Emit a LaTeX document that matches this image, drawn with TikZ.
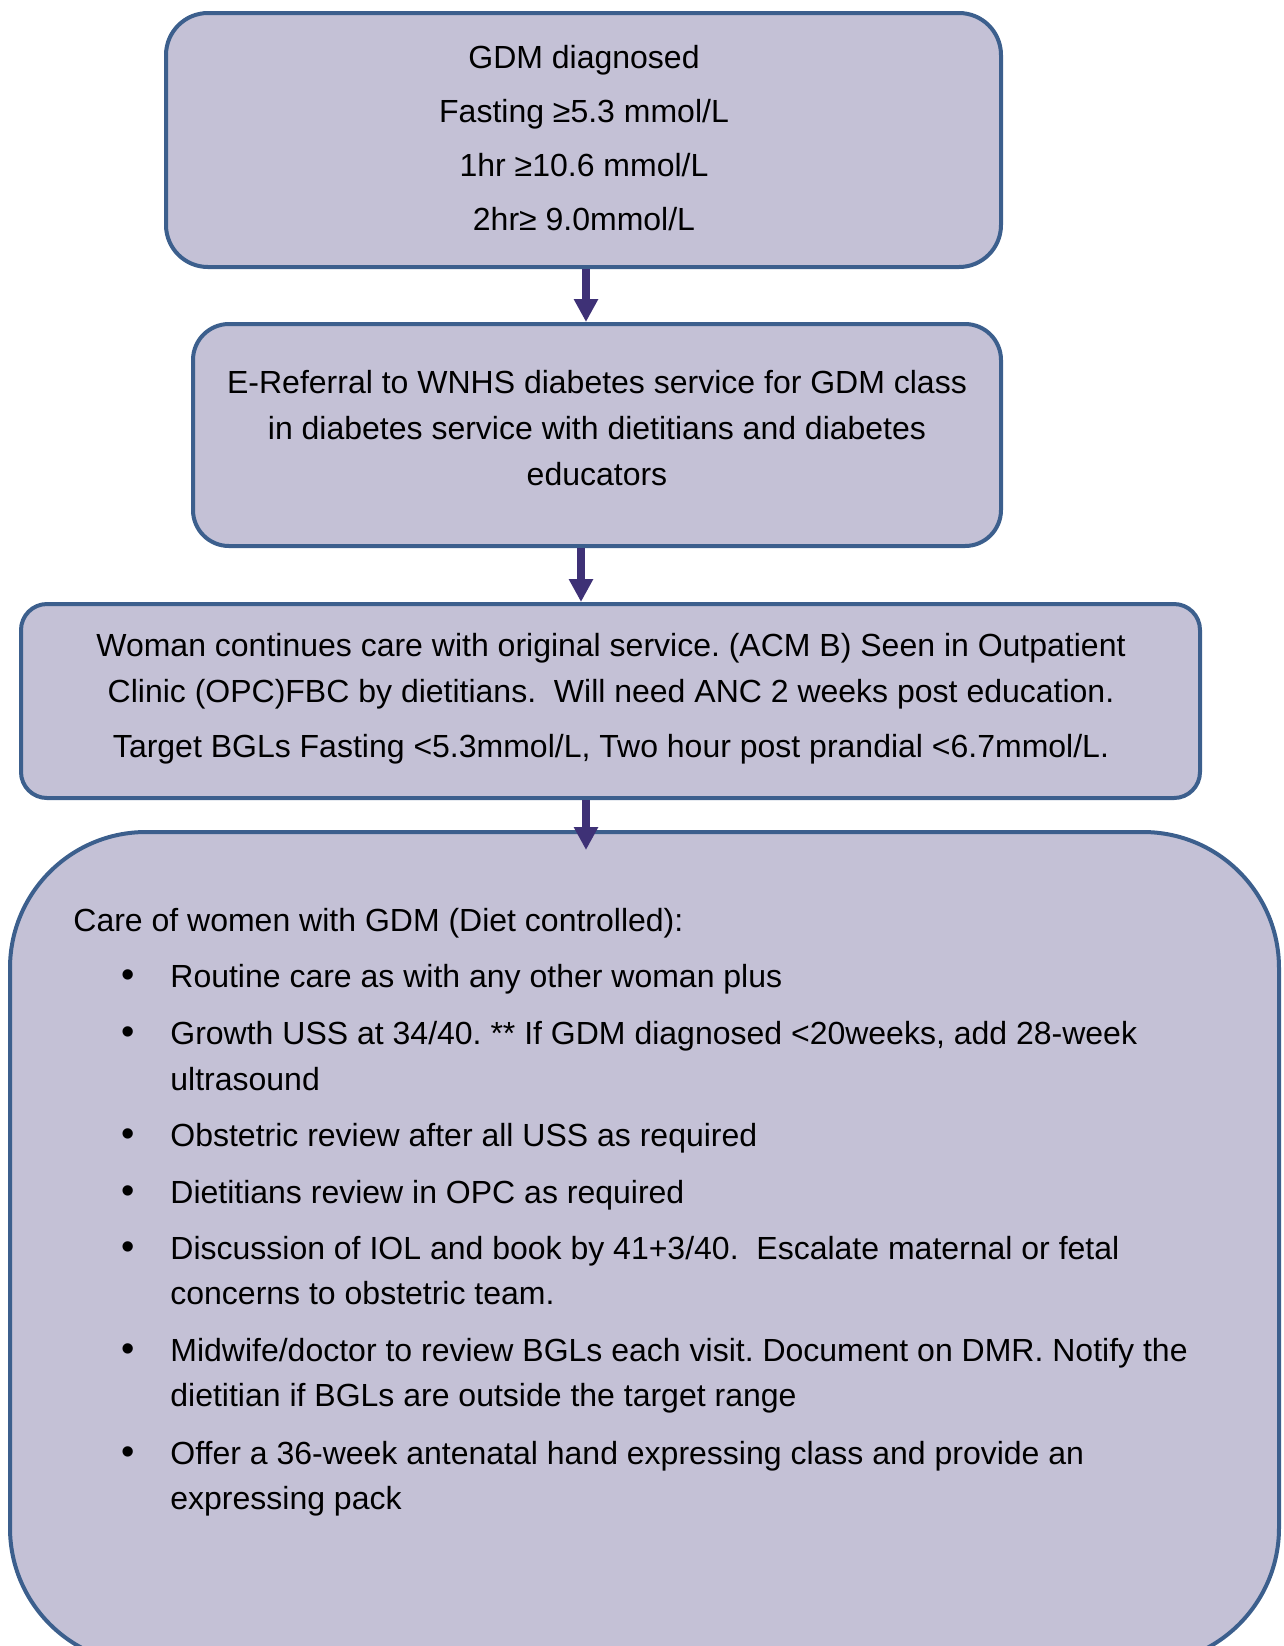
\documentclass[tikz,border=0pt]{standalone}
\usepackage{fontspec}
\setmainfont{Liberation Sans}
\frenchspacing
\usetikzlibrary{arrows.meta}
\definecolor{boxfill}{RGB}{196,193,214}
\definecolor{boxline}{RGB}{60,95,141}
\definecolor{arrowcol}{RGB}{62,49,118}
\tikzset{
  flowbox/.style={draw=boxline, fill=boxfill, line width=2pt, inner sep=0pt},
  ln/.style={anchor=base, inner sep=0pt, font=\fontsize{16pt}{19pt}\selectfont},
  lnw/.style={anchor=base west, inner sep=0pt, font=\fontsize{16pt}{19pt}\selectfont},
  bul/.style={anchor=base, inner sep=0pt, font=\fontsize{19pt}{19pt}\selectfont},
  flowarrow/.style={draw=arrowcol, line width=3.8pt, -{Triangle[width=11.5pt,length=11.5pt]}}
}
\begin{document}
\begin{tikzpicture}[x=0.5pt,y=-0.5pt]
\useasboundingbox (0,0) rectangle (1284,1646);
% boxes
\node[flowbox, rounded corners=21pt, minimum width=417.5pt, minimum height=127pt] (b1) at (583.5,140) {};
\node[flowbox, rounded corners=18pt, minimum width=404pt, minimum height=111pt] (b2) at (597,435) {};
\node[flowbox, rounded corners=13pt, minimum width=589.5pt, minimum height=97pt] (b3) at (610.5,701) {};
\begin{scope}
\clip (0,0) rectangle (1284,1646);
\node[flowbox, rounded corners=68pt, minimum width=634.5pt, minimum height=416pt] (b4) at (644.5,1248) {};
\end{scope}
% arrows
\coordinate (x1) at (586,0);
\coordinate (x2) at (581,0);
\coordinate (x3) at (586,0);
\coordinate (e3) at (586,850);
\draw[flowarrow] (b1.south -| x1) -- (b2.north -| x1);
\draw[flowarrow] (b2.south -| x2) -- (b3.north -| x2);
\draw[flowarrow] (b3.south -| x3) -- (e3);
% box 1 text
\node[ln] (t11) at (584,68) {GDM diagnosed};
\node[ln] (t12) at (584,122) {Fasting ≥5.3 mmol/L};
\node[ln] (t13) at (584,176) {1hr ≥10.6 mmol/L};
\node[ln] (t14) at (584,230) {2hr≥ 9.0mmol/L};
% box 2 text
\node[ln] (t21) at (597,393) {E-Referral to WNHS diabetes service for GDM class};
\node[ln] (t22) at (597,439) {in diabetes service with dietitians and diabetes};
\node[ln] (t23) at (597,485) {educators};
% box 3 text
\node[ln] (t31) at (611,656) {Woman continues care with original service. (ACM B) Seen in Outpatient};
\node[ln] (t32) at (611,702) {Clinic (OPC)FBC by dietitians.\ \ Will need ANC 2 weeks post education.};
\node[ln] (t33) at (611,757) {Target BGLs Fasting <5.3mmol/L, Two hour post prandial <6.7mmol/L.};
% box 4 text
\node[lnw] (h4) at (73,931) {Care of women with GDM (Diet controlled):};
\foreach \n/\y in {1/987,2/1044,3/1146,4/1203,5/1259,6/1361,7/1464}{
  \node[bul] (bu\n) at (128,\y) {•};
}
\node[lnw] (i1) at (170,987) {Routine care as with any other woman plus};
\node[lnw] (i2a) at (170,1044) {Growth USS at 34/40. ** If GDM diagnosed <20weeks, add 28-week};
\node[lnw] (i2b) at (170,1090) {ultrasound};
\node[lnw] (i3) at (170,1146) {Obstetric review after all USS as required};
\node[lnw] (i4) at (170,1203) {Dietitians review in OPC as required};
\node[lnw] (i5a) at (170,1259) {Discussion of IOL and book by 41+3/40.\ \ Escalate maternal or fetal};
\node[lnw] (i5b) at (170,1304) {concerns to obstetric team.};
\node[lnw] (i6a) at (170,1361) {Midwife/doctor to review BGLs each visit. Document on DMR. Notify the};
\node[lnw] (i6b) at (170,1406) {dietitian if BGLs are outside the target range};
\node[lnw] (i7a) at (170,1464) {Offer a 36-week antenatal hand expressing class and provide an};
\node[lnw] (i7b) at (170,1509) {expressing pack};
\end{tikzpicture}
\end{document}
